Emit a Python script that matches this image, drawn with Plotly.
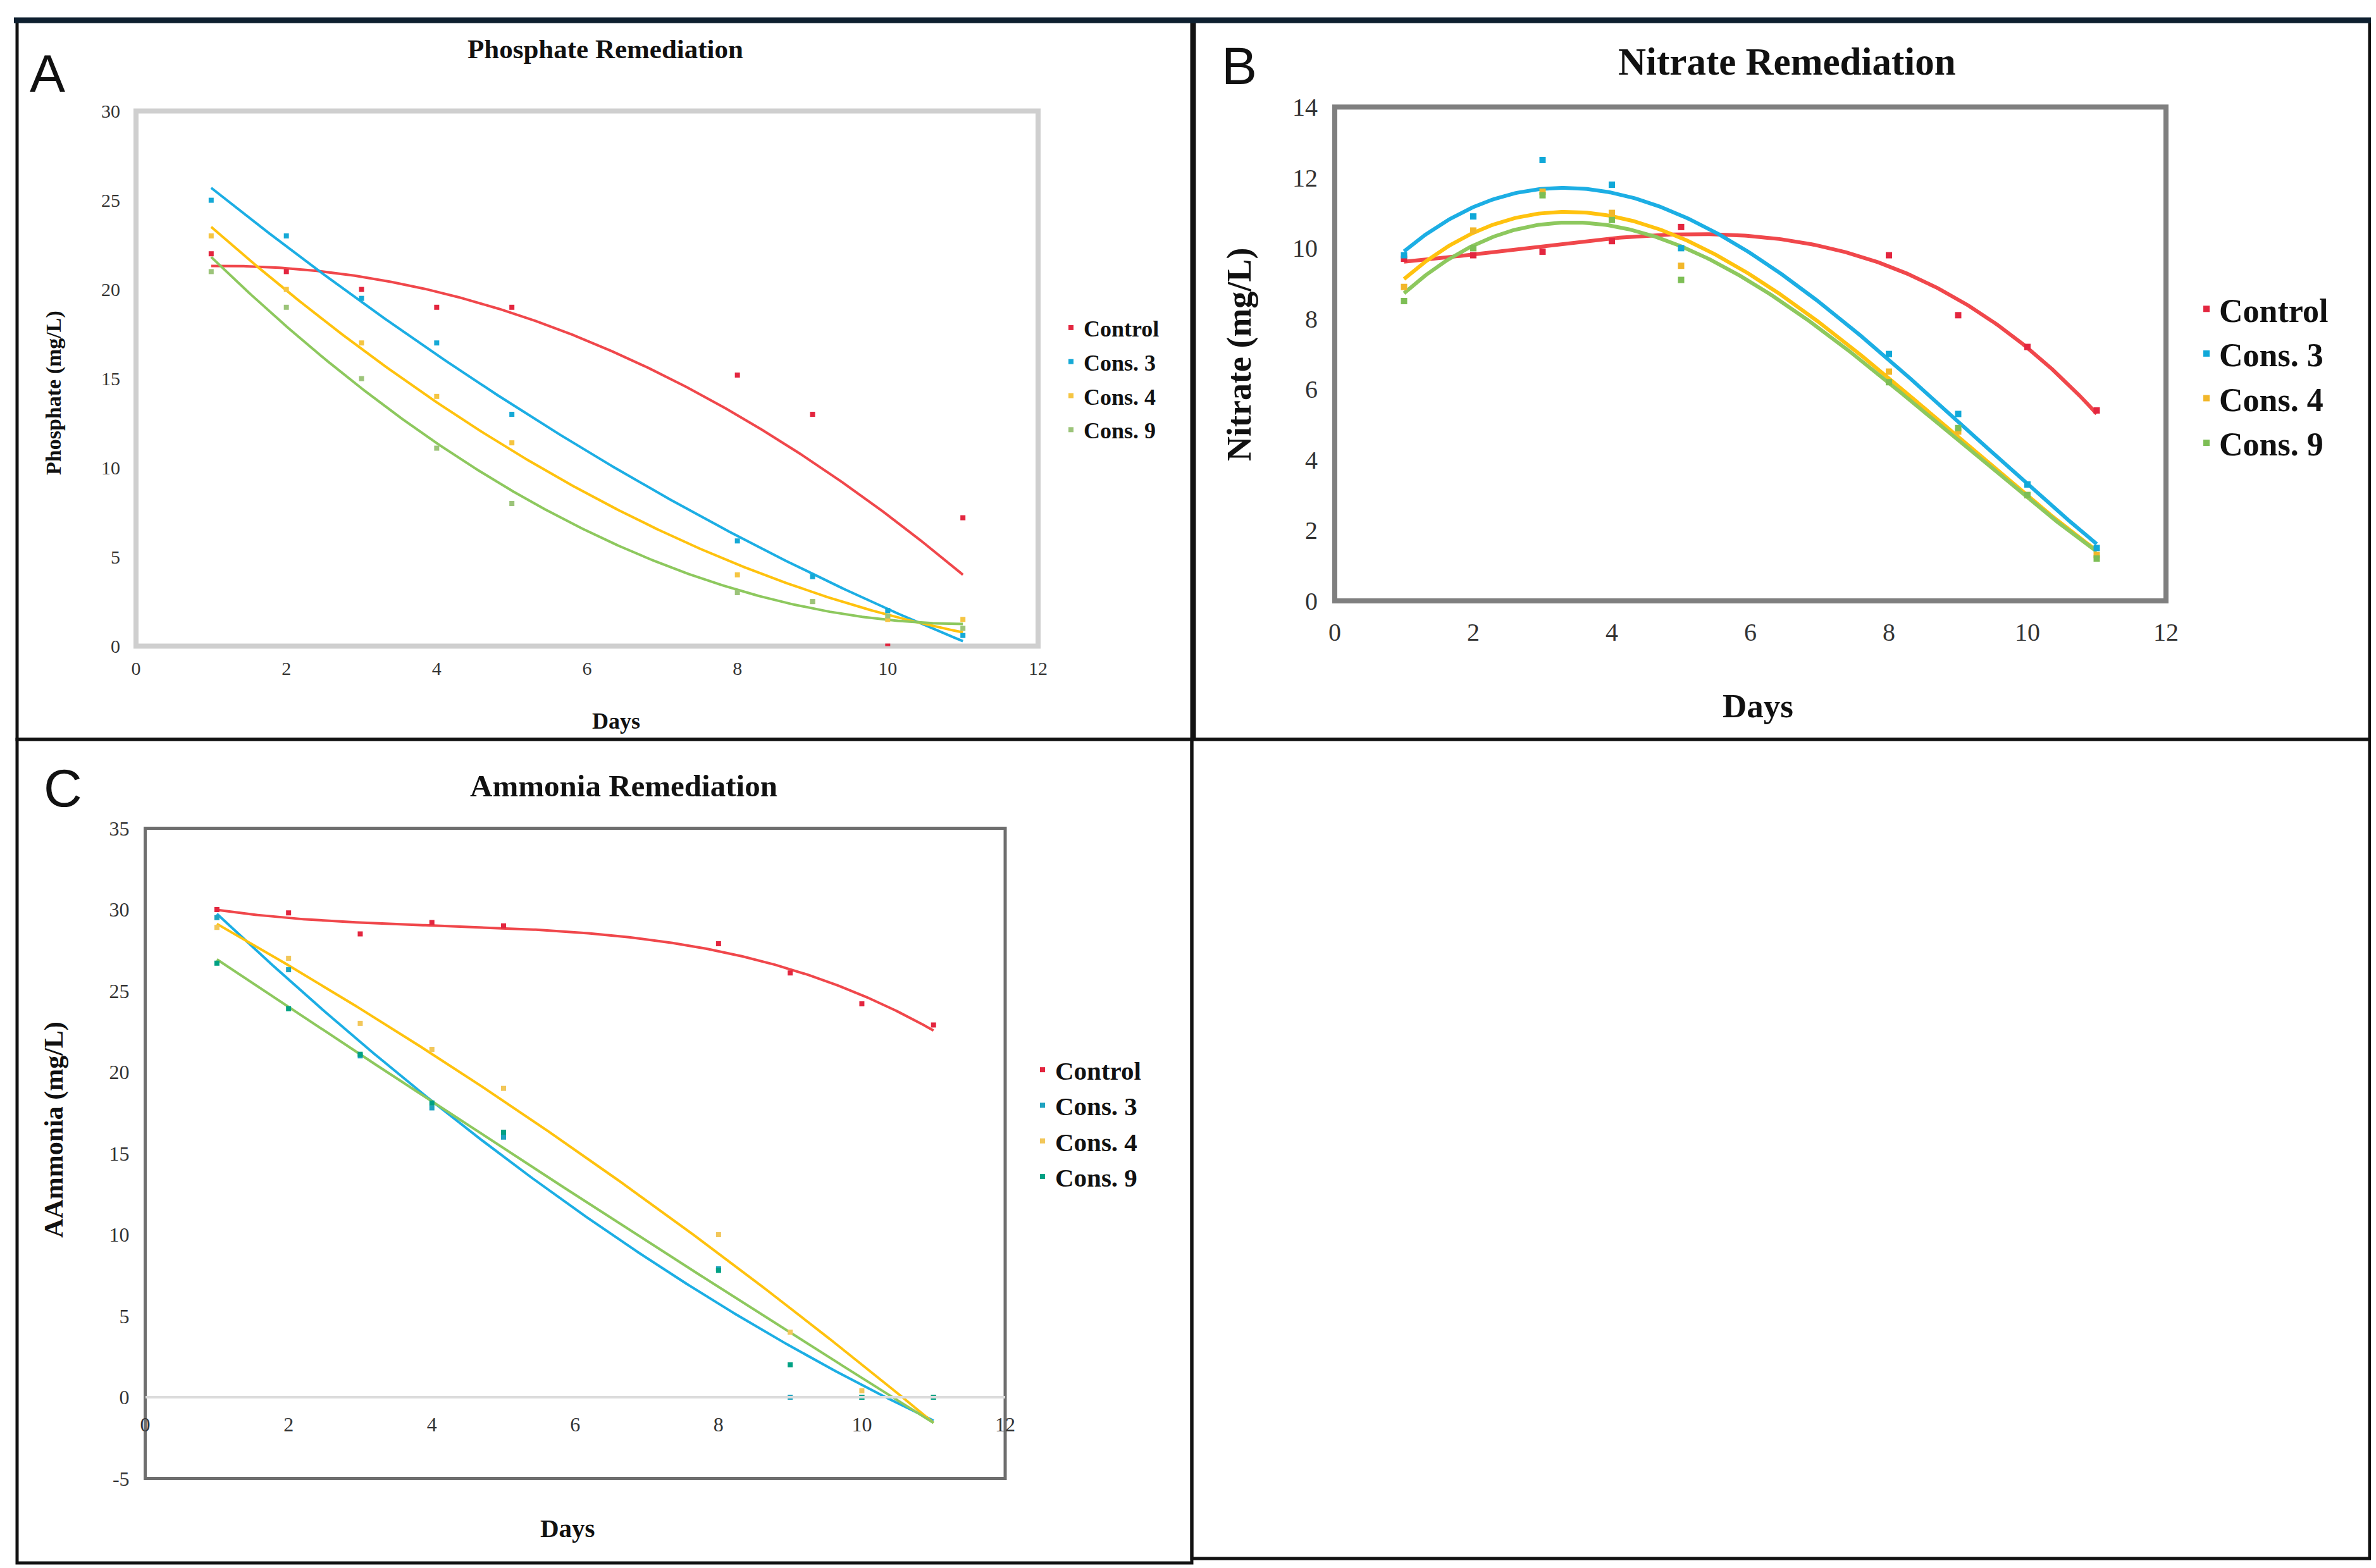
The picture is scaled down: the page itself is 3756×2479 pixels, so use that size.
import numpy as np
import plotly.graph_objects as go

W, H = 3756, 2479
days = [1, 2, 3, 4, 5, 8, 9, 10, 11]
series_names = ["Control", "Cons. 3", "Cons. 4", "Cons. 9"]

# Panel A - Phosphate (mg/L)
phos_control = [22, 21, 20, 19, 19, 15.2, 13, 0, 7.2]
phos_cons3 = [25, 23, 19.5, 17, 13, 5.9, 3.9, 2.0, 0.6]
phos_cons4 = [23, 20, 17, 14, 11.4, 4.0, 2.5, 1.5, 1.5]
phos_cons9 = [21, 19, 15, 11.1, 8.0, 3.0, 2.5, 1.7, 1.0]

# Panel B - Nitrate (mg/L)
nit_control = [9.7, 9.8, 9.9, 10.2, 10.6, 9.8, 8.1, 7.2, 5.4]
nit_cons3 = [9.8, 10.9, 12.5, 11.8, 10.0, 7.0, 5.3, 3.3, 1.5]
nit_cons4 = [8.9, 10.5, 11.6, 11.0, 9.5, 6.5, 4.8, 3.0, 1.3]
nit_cons9 = [8.5, 10.0, 11.5, 10.8, 9.1, 6.2, 4.9, 3.0, 1.2]

# Panel C - Ammonia (mg/L)
amm_control = [30, 29.8, 28.5, 29.2, 29.0, 27.9, 26.1, 24.2, 22.9]
amm_cons3 = [29.5, 26.3, 21.0, 17.8, 16.0, 7.9, 0, 0, 0]
amm_cons4 = [28.9, 27.0, 23.0, 21.4, 19.0, 10.0, 4.0, 0.4, 0]
amm_cons9 = [26.7, 23.9, 21.1, 18.1, 16.3, 7.8, 2.0, 0, 0]

C_yticks = [-5, 0, 5, 10, 15, 20, 25, 30, 35]
C_yticktext = ["-5", "0", "5", "10", "15", "20", "25", "30", "35"]

line_colors = ["#F0474B", "#1CAEE4", "#FFC20E", "#8DC85E"]
mark_A = ["#E3263F", "#15A9D6", "#F5C542", "#9CC47A"]
mark_B = ["#E3263F", "#10A8D8", "#F2B72A", "#7DBE55"]
mark_C = ["#E3263F", "#1FA3C0", "#F2C75A", "#00A184"]

SERIF = "Liberation Serif"


def X(o):
    return o / W


def Y(o):
    return 1 - o / H


fig = go.Figure()

panels = [
    dict(ax="", data=[phos_control, phos_cons3, phos_cons4, phos_cons9], deg=[2, 2, 2, 2],
         marks=mark_A, lw=4, ms=8, legend="legend"),
    dict(ax="2", data=[nit_control, nit_cons3, nit_cons4, nit_cons9], deg=[3, 3, 3, 3],
         marks=mark_B, lw=6, ms=10, legend="legend2"),
    dict(ax="3", data=[amm_control, amm_cons3, amm_cons4, amm_cons9], deg=[3, 2, 2, 2],
         marks=mark_C, lw=4, ms=8, legend="legend3"),
]

xs = np.linspace(1, 11, 300)
for p in panels:
    xa = "x" + p["ax"]
    ya = "y" + p["ax"]
    for i, (name, vals) in enumerate(zip(series_names, p["data"])):
        coef = np.polyfit(days, vals, p["deg"][i])
        fig.add_trace(go.Scatter(x=xs, y=np.polyval(coef, xs), mode="lines",
                                 line=dict(color=line_colors[i], width=p["lw"]),
                                 xaxis=xa, yaxis=ya, showlegend=False,
                                 hoverinfo="skip"))
    for i, (name, vals) in enumerate(zip(series_names, p["data"])):
        fig.add_trace(go.Scatter(x=days, y=vals, mode="markers", name=name,
                                 marker=dict(symbol="square", size=p["ms"],
                                             color=p["marks"][i]),
                                 xaxis=xa, yaxis=ya, legend=p["legend"],
                                 legendgroup=p["legend"] + str(i)))

# axis domains (pixel based)
A_x = [X(207), X(1633)]
A_y = [Y(1013.6), Y(167.6)]
B_x = [X(2102), X(3416)]
B_y = [Y(942), Y(161.3)]
C_x = [X(221.6), X(1581)]
C_y = [Y(2329.5), Y(1301.5)]
C_zero = C_y[0] + (0 - (-5)) / 40 * (C_y[1] - C_y[0])

tickfontA = dict(family=SERIF, size=30, color="#333333")
tickfontB = dict(family=SERIF, size=40, color="#333333")
tickfontC = dict(family=SERIF, size=32, color="#333333")

common = dict(showgrid=False, zeroline=False, ticks="", showline=False, automargin=False)

fig.update_layout(
    width=W, height=H, autosize=False,
    margin=dict(l=0, r=0, t=0, b=0, pad=0),
    paper_bgcolor="white", plot_bgcolor="white",
    xaxis=dict(domain=A_x, range=[0, 12], tickvals=[0, 2, 4, 6, 8, 10, 12],
               tickfont=tickfontA, anchor="y", ticklabelstandoff=14, **common),
    yaxis=dict(domain=A_y, range=[0, 30], tickvals=[0, 5, 10, 15, 20, 25, 30],
               tickfont=tickfontA, anchor="x", ticklabelstandoff=24, **common),
    xaxis2=dict(domain=B_x, range=[0, 12], tickvals=[0, 2, 4, 6, 8, 10, 12],
                tickfont=tickfontB, anchor="y2", ticklabelstandoff=22, **common),
    yaxis2=dict(domain=B_y, range=[0, 14], tickvals=list(range(0, 15, 2)),
                tickfont=tickfontB, anchor="x2", ticklabelstandoff=26, **common),
    xaxis3=dict(domain=C_x, range=[0, 12], tickvals=[0, 2, 4, 6, 8, 10, 12],
                tickfont=tickfontC, anchor="free", position=C_zero,
                showgrid=False, zeroline=False, ticks="", showline=True,
                linecolor="#DCDCDC", linewidth=4, ticklabelstandoff=14,
                automargin=False),
    yaxis3=dict(domain=C_y, range=[-5, 35], tickvals=C_yticks, ticktext=C_yticktext,
                tickfont=tickfontC, anchor="x3", ticklabelstandoff=24, **common),
)

legfont = lambda s: dict(family=SERIF, size=s, color="#111111", weight="bold")
fig.update_layout(
    legend=dict(x=X(1665), y=Y(480), xanchor="left", yanchor="top",
                font=legfont(36), tracegroupgap=4, itemsizing="trace",
                bgcolor="rgba(0,0,0,0)"),
    legend2=dict(x=X(3460), y=Y(440), xanchor="left", yanchor="top",
                 font=legfont(52), tracegroupgap=0, itemsizing="trace",
                 bgcolor="rgba(0,0,0,0)"),
    legend3=dict(x=X(1620), y=Y(1650), xanchor="left", yanchor="top",
                 font=legfont(41), tracegroupgap=0, itemsizing="trace",
                 bgcolor="rgba(0,0,0,0)"),
)

shapes = []
# plot-area borders
shapes.append(dict(type="rect", xref="x domain", yref="y domain", x0=0, x1=1, y0=0, y1=1,
                   line=dict(color="#CFCFCF", width=8), layer="below"))
shapes.append(dict(type="rect", xref="x2 domain", yref="y2 domain", x0=0, x1=1, y0=0, y1=1,
                   line=dict(color="#7F7F7F", width=8), layer="below"))
shapes.append(dict(type="rect", xref="x3 domain", yref="y3 domain", x0=0, x1=1, y0=0, y1=1,
                   line=dict(color="#6E6E6E", width=5), layer="below"))
# panel frames
frame = "#121212"
for (x0, y0, x1, y1) in [(19, 24, 1876, 1161), (1880, 24, 3738, 1161),
                         (19, 1161, 1876, 2463), (1876, 1161, 3738, 2456)]:
    shapes.append(dict(type="rect", xref="paper", yref="paper",
                       x0=X(x0), x1=X(x1), y0=Y(y1), y1=Y(y0),
                       line=dict(color=frame, width=5)))
shapes.append(dict(type="line", xref="paper", yref="paper", x0=X(14), x1=X(3742),
                   y0=Y(24), y1=Y(24), line=dict(color="#0E2030", width=9)))
fig.update_layout(shapes=shapes)

ann = []


def text(x, y, s, size, bold=True, angle=0, family=SERIF, color="#111111"):
    ann.append(dict(x=X(x), y=Y(y), xref="paper", yref="paper", text=s,
                    showarrow=False, textangle=angle, xanchor="center", yanchor="middle",
                    font=dict(family=family, size=size, color=color,
                              weight="bold" if bold else "normal")))


# Panel titles
text(949, 70, "Phosphate Remediation", 43)
text(2817, 89, "Nitrate Remediation", 61)
text(978, 1235, "Ammonia Remediation", 49)
# axis titles
text(77, 613, "Phosphate (mg/L)", 34, angle=-90)
text(966, 1132, "Days", 36)
text(1951, 553, "Nitrate (mg/L)", 54, angle=-90)
text(2771, 1108, "Days", 53)
text(77, 1778, "AAmmonia (mg/L)", 42, angle=-90)
text(889, 2408, "Days", 41)
# panel letters
text(67, 108, "A", 84, bold=False, family="Liberation Sans")
text(1951, 96, "B", 84, bold=False, family="Liberation Sans")
text(91, 1238, "C", 84, bold=False, family="Liberation Sans")
fig.update_layout(annotations=ann)

fig.write_html("out.html")
